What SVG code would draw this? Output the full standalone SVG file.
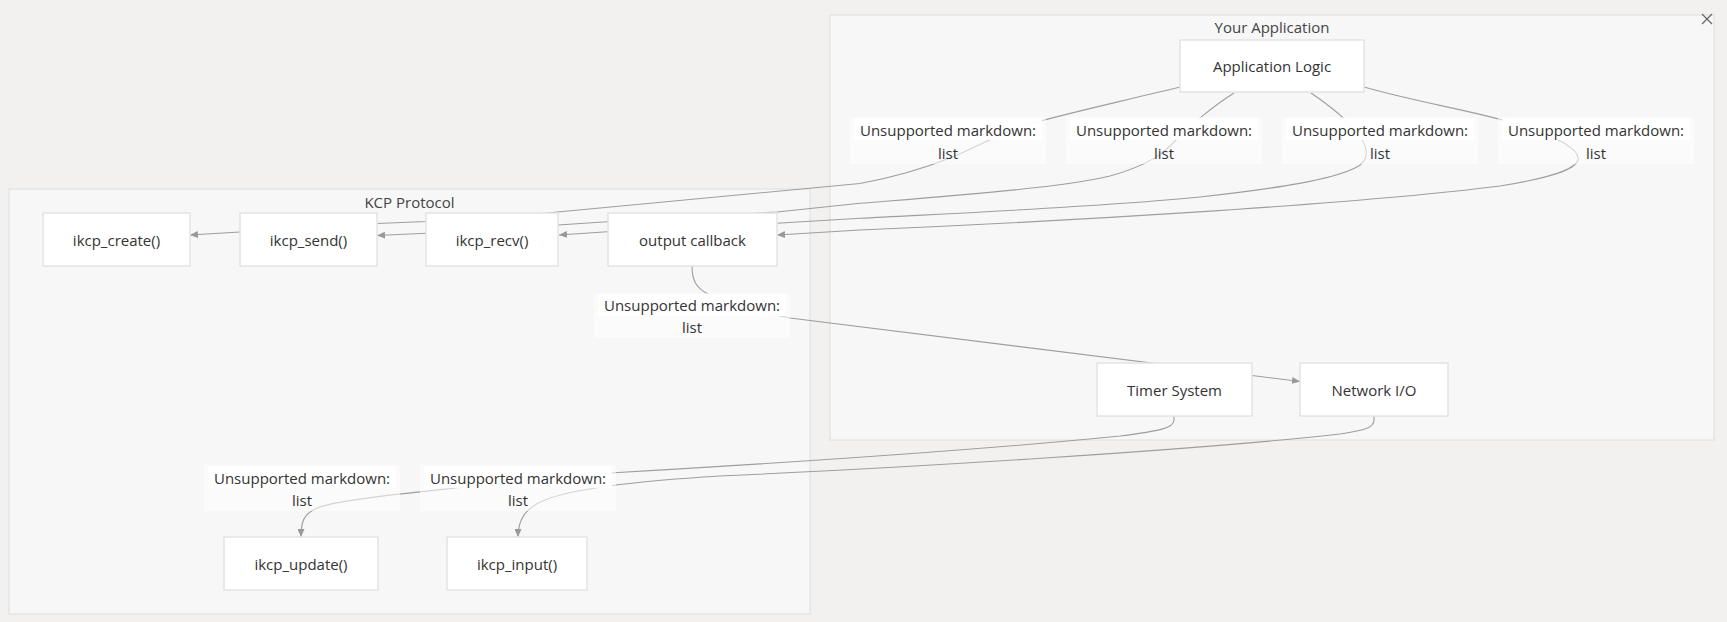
<svg xmlns="http://www.w3.org/2000/svg" width="1727" height="622" viewBox="0 0 1727 622">
<defs>
<style>
.bg{fill:#f2f1f0}
.cluster rect{fill:#f7f7f7;stroke:#dedede;stroke-width:1}
.ctitle{font-family:"Open Sans","Noto Sans",sans-serif;font-size:15px;fill:#444;text-anchor:middle;dominant-baseline:central}
.node rect{fill:#ffffff;stroke:#e4e4e4;stroke-width:1.5}
.node text{font-family:"Open Sans","Noto Sans",sans-serif;font-size:15px;fill:#333;text-anchor:middle;dominant-baseline:central}
.edge{fill:none;stroke:#9e9e9e;stroke-width:1.1}
.lbl .o{fill:#ffffff;fill-opacity:0.55}
.lbl .l1{fill:#ffffff;fill-opacity:0.9}
.lbl text{font-family:"Open Sans","Noto Sans",sans-serif;font-size:15px;fill:#333;text-anchor:middle;dominant-baseline:central}
</style>
<marker id="arr" viewBox="0 0 8 7" refX="8" refY="3.5" markerWidth="8" markerHeight="7" markerUnits="userSpaceOnUse" orient="auto">
<path d="M0,0 L8,3.5 L0,7 z" fill="#999"/>
</marker>
</defs>
<rect class="bg" x="0" y="0" width="1727" height="622"/>

<g id="cluster-app" class="cluster">
<rect x="830" y="15" width="884" height="425"/>
<text class="ctitle" x="1272" y="27">Your Application</text>
</g>
<g id="cluster-kcp" class="cluster">
<rect x="9" y="189" width="801" height="425"/>
<text class="ctitle" x="409.5" y="202">KCP Protocol</text>
</g>
<g id="close-icon" stroke="#666" stroke-width="1.2">
<line x1="1702" y1="14" x2="1712" y2="24"/>
<line x1="1712" y1="14" x2="1702" y2="24"/>
</g>

<g id="connectors">
<path class="edge" marker-end="url(#arr)" d="M1180,87 C1110,104 1060,115 1030,124 C1000,133 975,148 950,158 C920,170 890,178 860,183.5 L547,213 L426,221.5 L377,223.5 L240,232 L190,235"/>
<path class="edge" marker-end="url(#arr)" d="M1234,93 C1215,105 1190,125 1176,140 C1165,152 1150,165 1110,176 C1060,188 950,196 860,203.3 L777,212 L607,221.7 L558,225 L426,233.3 L377,235.5"/>
<path class="edge" marker-end="url(#arr)" d="M1311,93 C1330,106 1345,118 1355,130 C1368,145 1372,160 1355,168 C1330,180 1280,188 1200,197 C1100,207 960,213 860,218.3 L777,223.3 L607,231.7 L559,235"/>
<path class="edge" marker-end="url(#arr)" d="M1364,87 C1420,103 1480,112 1520,125 C1560,138 1580,150 1578,160 C1575,170 1550,178 1500,186 C1350,205 1050,222 860,230 L777,235"/>
<path class="edge" marker-end="url(#arr)" d="M692,266 C692,280 696,288 708,294 C730,305 760,312 790,318 L1300,381.5"/>
<path class="edge" marker-end="url(#arr)" d="M1174,416 L1174,420 C1174,428 1160,431 1120,436 C1000,448 800,462 610,473 C560,477 500,484 460,487.5 C400,494 340,500 320,507 C303,513 301,522 301,537"/>
<path class="edge" marker-end="url(#arr)" d="M1374,416 L1374,420 C1374,428 1365,430 1340,434 C1200,450 900,468 720,476 C620,482 570,490 545,500 C525,508 518,520 518,537"/>
</g>

<g id="edge-labels">
<g class="lbl" id="lbl-1"><rect class="o" x="850" y="117" width="196" height="47"/><rect class="l1" x="854" y="118" width="188" height="22"/><text x="948" y="130">Unsupported markdown:</text><text x="948" y="153">list</text></g>
<g class="lbl" id="lbl-2"><rect class="o" x="1066" y="117" width="196" height="47"/><rect class="l1" x="1070" y="118" width="188" height="22"/><text x="1164" y="130">Unsupported markdown:</text><text x="1164" y="153">list</text></g>
<g class="lbl" id="lbl-3"><rect class="o" x="1282" y="117" width="196" height="47"/><rect class="l1" x="1286" y="118" width="188" height="22"/><text x="1380" y="130">Unsupported markdown:</text><text x="1380" y="153">list</text></g>
<g class="lbl" id="lbl-4"><rect class="o" x="1498" y="117" width="196" height="47"/><rect class="l1" x="1502" y="118" width="188" height="22"/><text x="1596" y="130">Unsupported markdown:</text><text x="1596" y="153">list</text></g>
<g class="lbl" id="lbl-5"><rect class="o" x="594" y="293" width="196" height="45"/><rect class="l1" x="598" y="294" width="188" height="22"/><text x="692" y="305">Unsupported markdown:</text><text x="692" y="327">list</text></g>
<g class="lbl" id="lbl-6"><rect class="o" x="204" y="465" width="196" height="46"/><rect class="l1" x="208" y="466" width="188" height="22"/><text x="302" y="478">Unsupported markdown:</text><text x="302" y="500">list</text></g>
<g class="lbl" id="lbl-7"><rect class="o" x="420" y="465" width="196" height="46"/><rect class="l1" x="424" y="466" width="188" height="22"/><text x="518" y="478">Unsupported markdown:</text><text x="518" y="500">list</text></g>
</g>

<g id="node-app" class="node"><rect x="1180" y="40" width="184" height="52"/><text x="1272" y="66">Application Logic</text></g>
<g id="node-create" class="node"><rect x="43" y="213" width="147" height="53"/><text x="116.5" y="239.5">ikcp_create()</text></g>
<g id="node-send" class="node"><rect x="240" y="213" width="137" height="53"/><text x="308.5" y="239.5">ikcp_send()</text></g>
<g id="node-recv" class="node"><rect x="426" y="213" width="132" height="53"/><text x="492" y="239.5">ikcp_recv()</text></g>
<g id="node-output" class="node"><rect x="608" y="213" width="169" height="53"/><text x="692.5" y="239.5">output callback</text></g>
<g id="node-timer" class="node"><rect x="1097" y="363" width="155" height="53"/><text x="1174.5" y="389.5">Timer System</text></g>
<g id="node-net" class="node"><rect x="1300" y="363" width="148" height="53"/><text x="1374" y="389.5">Network I/O</text></g>
<g id="node-update" class="node"><rect x="224" y="537" width="154" height="53"/><text x="301" y="563.5">ikcp_update()</text></g>
<g id="node-input" class="node"><rect x="447" y="537" width="140" height="53"/><text x="517" y="563.5">ikcp_input()</text></g>
</svg>
